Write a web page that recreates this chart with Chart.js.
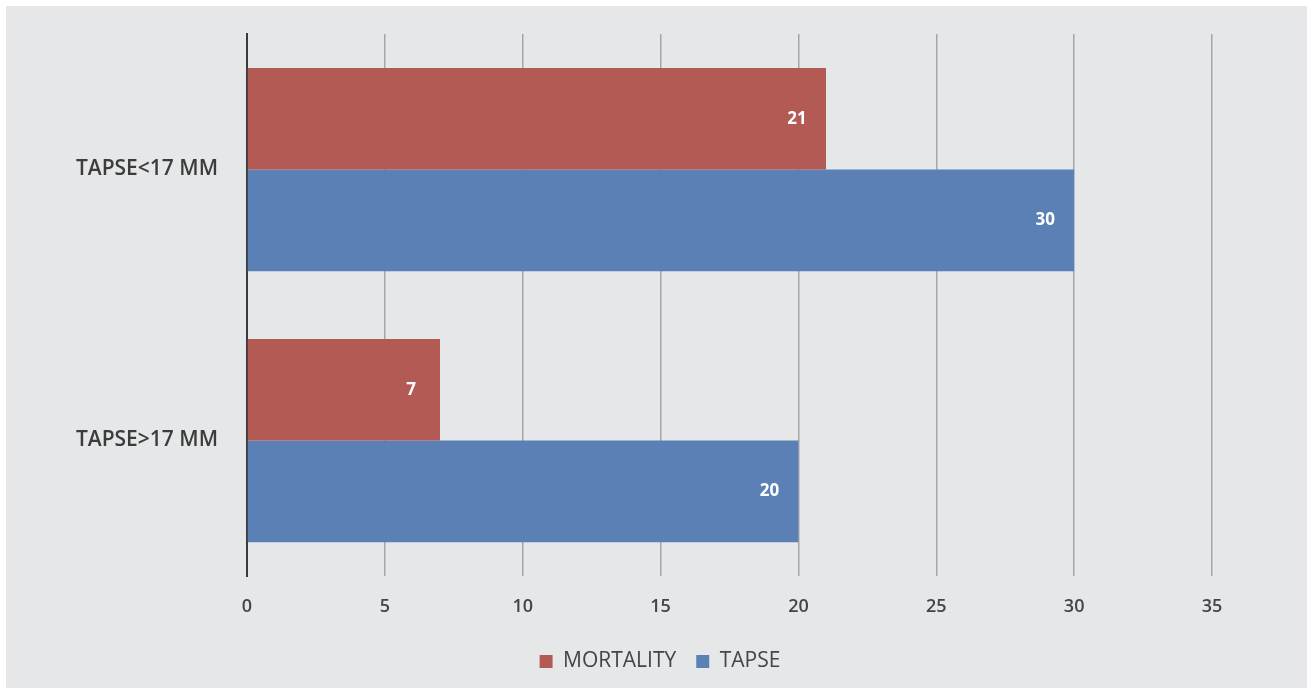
<!DOCTYPE html>
<html lang="en">

<head>
  <meta charset="UTF-8" />
  <title>TAPSE and mortality</title>
  <script src="https://cdn.jsdelivr.net/npm/chart.js@4.4.1/dist/chart.umd.min.js"></script>
  <style>
    html, body { margin: 0; padding: 0; background: #ffffff; }
    #wrap { width: 1309px; height: 693px; }
  </style>
</head>

<body>
  <div id="wrap"><canvas id="myChart" width="1309" height="693"></canvas></div>

  <script>
    // values
    const categories = ['TAPSE<17 MM', 'TAPSE>17 MM'];
    const mortality = [21, 7];
    const tapse = [30, 20];
    const xTicks = [0, 5, 10, 15, 20, 25, 30, 35];

    const RED = '#b25a53';
    const BLUE = '#5b80b6';
    const FONT = '"Open Sans", sans-serif';

    // grey panel behind the chart, with the thin white margin
    const panelBg = {
      id: 'panelBg',
      beforeDraw(chart) {
        const ctx = chart.ctx;
        ctx.save();
        ctx.fillStyle = '#ffffff';
        ctx.fillRect(0, 0, chart.width, chart.height);
        ctx.fillStyle = '#e6e7e8';
        ctx.fillRect(6, 6, chart.width - 8, chart.height - 11);
        ctx.restore();
      }
    };

    // the legend sits centred on the whole panel, not on the plot
    const legendShift = {
      id: 'legendShift',
      afterLayout(chart) {
        if (!chart.legend) return;
        const dx = 54;
        chart.legend.left += dx;
        chart.legend.right += dx;
      }
    };

    // white numbers inside the end of each bar
    const barValues = {
      id: 'barValues',
      afterDatasetsDraw(chart) {
        const ctx = chart.ctx;
        ctx.save();
        ctx.fillStyle = '#ffffff';
        ctx.font = 'bold 17px ' + FONT;
        ctx.textAlign = 'center';
        ctx.textBaseline = 'middle';
        chart.data.datasets.forEach((ds, i) => {
          chart.getDatasetMeta(i).data.forEach((bar, j) => {
            ctx.fillText(String(ds.data[j]), bar.x - 29, bar.y);
          });
        });
        ctx.restore();
      }
    };

    const ctx = document.getElementById('myChart').getContext('2d');
    const myChart = new Chart(ctx, {
      type: 'bar',
      data: {
        labels: categories,
        datasets: [{
          label: 'MORTALITY',
          data: mortality,
          backgroundColor: RED,
          categoryPercentage: 0.75,
          barPercentage: 1.0
        }, {
          label: 'TAPSE',
          data: tapse,
          backgroundColor: BLUE,
          categoryPercentage: 0.75,
          barPercentage: 1.0
        }]
      },
      options: {
        indexAxis: 'y',
        responsive: false,
        animation: false,
        layout: {
          padding: { left: 0, right: 97, top: 34, bottom: 11 }
        },
        scales: {
          x: {
            min: 0,
            max: 35,
            afterBuildTicks(scale) {
              scale.ticks = xTicks.map(v => ({ value: v }));
            },
            afterFit(scale) {
              scale.height = 55;
            },
            grid: {
              color: '#a6a6a6',
              lineWidth: 1.5,
              drawTicks: false
            },
            border: { display: false },
            ticks: {
              padding: 20,
              color: '#454545',
              font: { family: FONT, size: 18, weight: '600' }
            }
          },
          y: {
            afterFit(scale) {
              scale.width = 247;
              scale.paddingTop = 0;
              scale.paddingBottom = 0;
            },
            grid: { display: false, drawTicks: false },
            border: { display: true, color: '#3a3a3a', width: 2 },
            ticks: {
              padding: 29,
              color: '#3c3c3c',
              font: { family: FONT, size: 21, weight: '600' }
            }
          }
        },
        plugins: {
          legend: {
            position: 'bottom',
            labels: {
              boxWidth: 13,
              boxHeight: 13,
              padding: 20,
              color: '#454545',
              font: { family: FONT, size: 21 }
            }
          },
          tooltip: { enabled: false }
        }
      },
      plugins: [panelBg, legendShift, barValues]
    });
  </script>
</body>

</html>
